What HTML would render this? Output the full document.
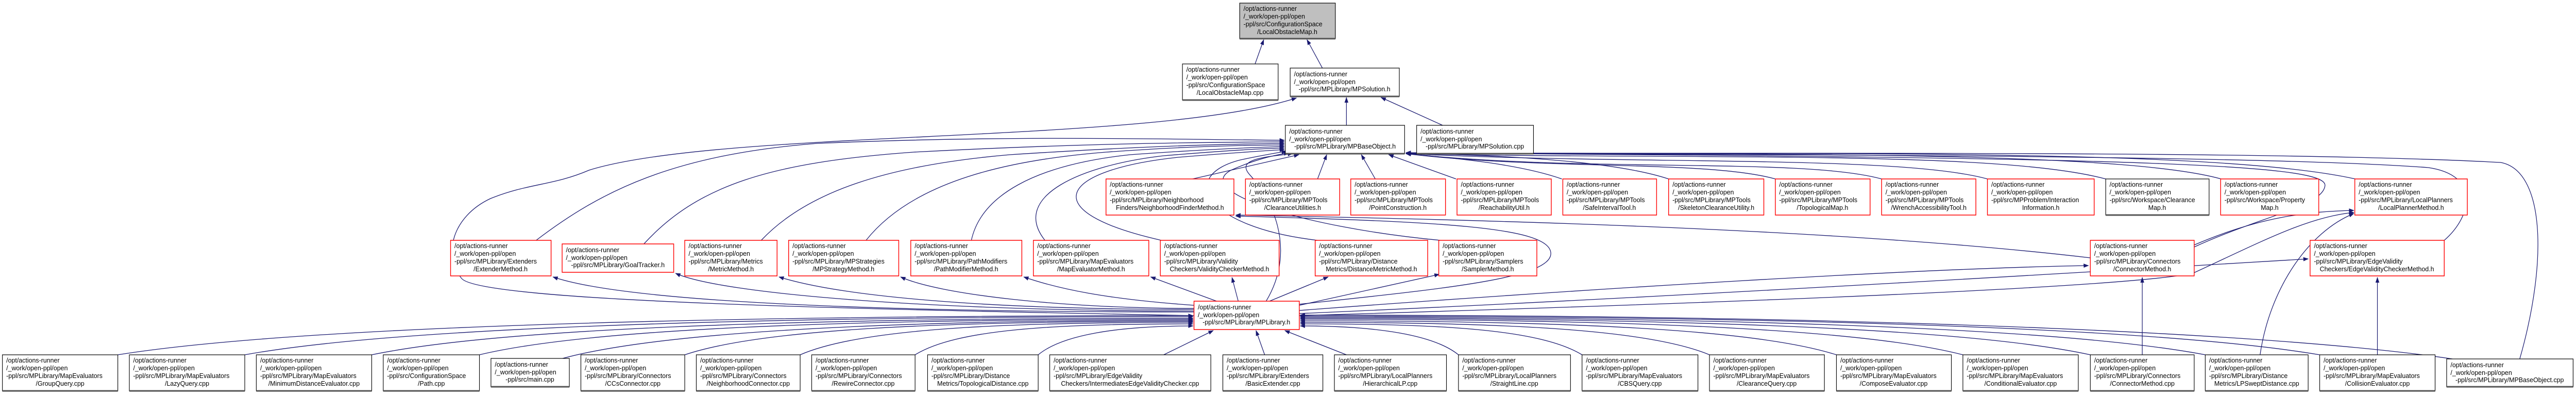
<!DOCTYPE html>
<html><head><meta charset="utf-8"><style>
html,body{margin:0;padding:0;background:#fff;width:100%;height:100%;overflow:hidden;}
svg{display:block;width:100vw;height:100vh;}
text{font-family:"Liberation Sans",Arial,sans-serif;font-size:13.3px;fill:#000;}
.e{fill:none;stroke:#191970;stroke-width:1.3;}
.nb{fill:#fff;stroke:#000;stroke-width:1.2;}
.nr{fill:#fff;stroke:#ff0000;stroke-width:1.5;}
.sh{stroke:#555;stroke-width:3;}
.m{text-anchor:middle;}
</style></head><body>
<svg viewBox="0 0 5357 764" preserveAspectRatio="none" xmlns="http://www.w3.org/2000/svg">
<defs><marker id="a" markerWidth="11" markerHeight="8" refX="10" refY="4" orient="auto" markerUnits="userSpaceOnUse"><path d="M0,0 L11,4 L0,8z" fill="#191970"/></marker></defs>

<g class="e" marker-end="url(#a)">
<path d="M2610,124 L2628,77"/>
<path d="M2750,132 L2718,77"/>
<path d="M2800,243 L2800,189"/>
<path d="M3000,243 L2872,189"/>
<path d="M2483,612 C1800,600 1000,585 960,540 C920,495 940,420 1020,385 C1100,355 1150,360 1225,330 C1500,250 2400,280 2696,190"/>
<path d="M1115,466 C1250,370 1400,300 1700,278 C2100,262 2400,270 2671,272"/>
<path d="M1339,473 C1450,360 1600,315 1900,295 C2200,280 2450,276 2671,275"/>
<path d="M1583,466 C1680,370 1850,320 2100,300 C2350,285 2500,280 2671,278"/>
<path d="M1801,466 C1900,350 2100,310 2300,295 C2450,285 2550,282 2671,281"/>
<path d="M2020,466 C2040,380 2150,320 2350,300 C2500,290 2600,286 2671,284"/>
<path d="M2173,466 C2100,380 2250,320 2420,302 C2550,292 2620,288 2671,287"/>
<path d="M2415,466 C2150,410 2200,330 2450,305 C2580,295 2640,292 2671,290"/>
<path d="M2740,466 C2500,440 2450,340 2580,310 C2630,300 2660,296 2675,293"/>
<path d="M2995,466 C2700,440 2480,370 2560,330 C2620,305 2660,300 2680,296"/>
<path d="M2633,584 C2700,480 2640,380 2600,340 C2570,310 2620,305 2688,298"/>
<path d="M2480,347 L2701,300"/>
<path d="M2740,347 L2759,300"/>
<path d="M2860,347 L2831,300"/>
<path d="M3028,347 L2888,300"/>
<path d="M3248,347 C3150,315 3000,305 2924,298"/>
<path d="M3470,347 C3350,310 3100,300 2924,298"/>
<path d="M3692,347 C3550,310 3200,330 2924,298"/>
<path d="M3913,347 C3750,305 3300,335 2924,298"/>
<path d="M4133,347 C3950,300 3400,320 2924,298"/>
<path d="M4379,347 C4150,290 3500,310 2924,298"/>
<path d="M4619,347 C4400,290 3600,300 2924,298"/>
<path d="M4898,347 C4600,285 3700,300 2924,298"/>
<path d="M4563,479 C4700,420 4830,400 4835,360 C4840,320 4500,305 2924,297"/>
<path d="M5083,466 C5140,420 5160,340 5050,325 C4700,300 3600,300 2924,297"/>
<path d="M5240,696 C5300,500 5290,330 5200,315 C4700,290 3600,300 2924,296"/>
<path d="M2483,605 C1815,605 1300,585 1150,537"/>
<path d="M2483,603 C1940,603 1500,570 1405,530"/>
<path d="M2483,600 C2050,600 1750,575 1620,537"/>
<path d="M2483,598 C2200,598 1950,570 1873,537"/>
<path d="M2483,592 C2300,580 2200,560 2129,537"/>
<path d="M2530,584 L2393,537"/>
<path d="M2575,584 L2562,538"/>
<path d="M2640,584 L2762,537"/>
<path d="M2702,592 L2993,532"/>
<path d="M2702,602 C3300,560 4000,520 4343,515"/>
<path d="M2702,608 C3400,580 4300,530 4800,502"/>
<path d="M2702,612 C3500,590 4400,560 4560,530 C4700,470 4800,420 4895,412"/>
<path d="M2702,590 C3000,560 3230,540 3225,490 C3220,440 3000,430 2570,419"/>
<path d="M4347,500 C3800,440 3000,425 2570,417"/>
<path d="M4563,475 C4700,420 4800,410 4895,408"/>
<path d="M4700,688 C4720,560 4800,450 4895,414"/>
<path d="M4944,688 L4944,538"/>
<path d="M4455,688 L4455,538"/>
<path d="M245,688 C581,638 1364,612 2481,612"/>
<path d="M509,688 C805,638 1496,614 2481,614"/>
<path d="M773,688 C1030,638 1628,617 2481,617"/>
<path d="M997,688 C1220,638 1740,619 2481,619"/>
<path d="M1170,695 C1367,645 1826,621 2481,621"/>
<path d="M1424,688 C1583,638 1953,623 2481,623"/>
<path d="M1664,688 C1787,638 2073,625 2481,625"/>
<path d="M1903,688 C1990,638 2193,628 2481,628"/>
<path d="M2159,688 C2208,650 2321,632 2481,632"/>
<path d="M2420,688 L2523,641"/>
<path d="M2630,688 L2612,641"/>
<path d="M2800,688 L2672,641"/>
<path d="M3033,688 C2983,650 2867,632 2704,632"/>
<path d="M3290,688 C3202,638 2996,628 2704,628"/>
<path d="M3555,688 C3427,638 3128,625 2704,625"/>
<path d="M3819,688 C3651,638 3260,622 2704,622"/>
<path d="M4082,688 C3875,638 3392,619 2704,619"/>
<path d="M4347,688 C4100,638 3524,617 2704,617"/>
<path d="M4586,688 C4303,638 3644,615 2704,615"/>
<path d="M4824,688 C4506,638 3763,613 2704,613"/>
<path d="M5100,696 C4740,646 3901,611 2704,611"/>
</g>

<g>
<rect x="2578" y="6" width="199" height="69" fill="#bfbfbf" stroke="#000" stroke-width="1.2"/>
<line x1="2578" y1="75" x2="2777" y2="75" class="sh"/>
<text x="2586" y="21">/opt/actions-runner</text><text x="2586" y="36">/_work/open-ppl/open</text><text x="2586" y="51">-ppl/src/ConfigurationSpace</text><text x="2677" y="66" class="m">/LocalObstacleMap.h</text>

<rect x="2459" y="124" width="199" height="70" class="nb"/><line x1="2459" y1="194" x2="2658" y2="194" class="sh"/>
<text x="2467" y="139">/opt/actions-runner</text><text x="2467" y="154">/_work/open-ppl/open</text><text x="2467" y="169">-ppl/src/ConfigurationSpace</text><text x="2558" y="184" class="m">/LocalObstacleMap.cpp</text>

<rect x="2683" y="132" width="227" height="55" class="nb"/><line x1="2683" y1="187" x2="2910" y2="187" class="sh"/>
<text x="2691" y="148">/opt/actions-runner</text><text x="2691" y="163">/_work/open-ppl/open</text><text x="2796" y="177" class="m">-ppl/src/MPLibrary/MPSolution.h</text>

<rect x="2673" y="243" width="248" height="55" class="nb"/><line x1="2673" y1="298" x2="2921" y2="298" class="sh"/>
<text x="2681" y="259">/opt/actions-runner</text><text x="2681" y="274">/_work/open-ppl/open</text><text x="2797" y="288" class="m">-ppl/src/MPLibrary/MPBaseObject.h</text>

<rect x="2946" y="243" width="243" height="55" class="nb"/><line x1="2946" y1="298" x2="3189" y2="298" class="sh"/>
<text x="2954" y="259">/opt/actions-runner</text><text x="2954" y="274">/_work/open-ppl/open</text><text x="3067" y="288" class="m">-ppl/src/MPLibrary/MPSolution.cpp</text>

<rect x="2300" y="347" width="266" height="70" class="nr"/>
<text x="2308" y="362">/opt/actions-runner</text><text x="2308" y="377">/_work/open-ppl/open</text><text x="2308" y="392">-ppl/src/MPLibrary/Neighborhood</text><text x="2433" y="407" class="m">Finders/NeighborhoodFinderMethod.h</text>

<rect x="2590" y="347" width="196" height="70" class="nr"/>
<text x="2598" y="362">/opt/actions-runner</text><text x="2598" y="377">/_work/open-ppl/open</text><text x="2598" y="392">-ppl/src/MPLibrary/MPTools</text><text x="2688" y="407" class="m">/ClearanceUtilities.h</text>

<rect x="2809" y="347" width="197" height="70" class="nr"/>
<text x="2817" y="362">/opt/actions-runner</text><text x="2817" y="377">/_work/open-ppl/open</text><text x="2817" y="392">-ppl/src/MPLibrary/MPTools</text><text x="2907" y="407" class="m">/PointConstruction.h</text>

<rect x="3030" y="347" width="196" height="70" class="nr"/>
<text x="3038" y="362">/opt/actions-runner</text><text x="3038" y="377">/_work/open-ppl/open</text><text x="3038" y="392">-ppl/src/MPLibrary/MPTools</text><text x="3128" y="407" class="m">/ReachabilityUtil.h</text>

<rect x="3250" y="347" width="195" height="70" class="nr"/>
<text x="3258" y="362">/opt/actions-runner</text><text x="3258" y="377">/_work/open-ppl/open</text><text x="3258" y="392">-ppl/src/MPLibrary/MPTools</text><text x="3347" y="407" class="m">/SafeIntervalTool.h</text>

<rect x="3470" y="347" width="198" height="70" class="nr"/>
<text x="3478" y="362">/opt/actions-runner</text><text x="3478" y="377">/_work/open-ppl/open</text><text x="3478" y="392">-ppl/src/MPLibrary/MPTools</text><text x="3569" y="407" class="m">/SkeletonClearanceUtility.h</text>

<rect x="3692" y="347" width="197" height="70" class="nr"/>
<text x="3700" y="362">/opt/actions-runner</text><text x="3700" y="377">/_work/open-ppl/open</text><text x="3700" y="392">-ppl/src/MPLibrary/MPTools</text><text x="3790" y="407" class="m">/TopologicalMap.h</text>

<rect x="3913" y="347" width="196" height="70" class="nr"/>
<text x="3921" y="362">/opt/actions-runner</text><text x="3921" y="377">/_work/open-ppl/open</text><text x="3921" y="392">-ppl/src/MPLibrary/MPTools</text><text x="4011" y="407" class="m">/WrenchAccessibilityTool.h</text>

<rect x="4133" y="347" width="222" height="70" class="nr"/>
<text x="4141" y="362">/opt/actions-runner</text><text x="4141" y="377">/_work/open-ppl/open</text><text x="4141" y="392">-ppl/src/MPProblem/Interaction</text><text x="4244" y="407" class="m">Information.h</text>

<rect x="4379" y="347" width="215" height="70" class="nb"/><line x1="4379" y1="417" x2="4594" y2="417" class="sh"/>
<text x="4387" y="362">/opt/actions-runner</text><text x="4387" y="377">/_work/open-ppl/open</text><text x="4387" y="392">-ppl/src/Workspace/Clearance</text><text x="4486" y="407" class="m">Map.h</text>

<rect x="4618" y="347" width="204" height="70" class="nr"/>
<text x="4626" y="362">/opt/actions-runner</text><text x="4626" y="377">/_work/open-ppl/open</text><text x="4626" y="392">-ppl/src/Workspace/Property</text><text x="4720" y="407" class="m">Map.h</text>

<rect x="4897" y="347" width="234" height="70" class="nr"/>
<text x="4905" y="362">/opt/actions-runner</text><text x="4905" y="377">/_work/open-ppl/open</text><text x="4905" y="392">-ppl/src/MPLibrary/LocalPlanners</text><text x="5014" y="407" class="m">/LocalPlannerMethod.h</text>

<rect x="937" y="466" width="209" height="69" class="nr"/>
<text x="945" y="481">/opt/actions-runner</text><text x="945" y="496">/_work/open-ppl/open</text><text x="945" y="511">-ppl/src/MPLibrary/Extenders</text><text x="1041" y="526" class="m">/ExtenderMethod.h</text>

<rect x="1169" y="473" width="232" height="55" class="nr"/>
<text x="1177" y="489">/opt/actions-runner</text><text x="1177" y="504">/_work/open-ppl/open</text><text x="1285" y="518" class="m">-ppl/src/MPLibrary/GoalTracker.h</text>

<rect x="1424" y="466" width="192" height="69" class="nr"/>
<text x="1432" y="481">/opt/actions-runner</text><text x="1432" y="496">/_work/open-ppl/open</text><text x="1432" y="511">-ppl/src/MPLibrary/Metrics</text><text x="1520" y="526" class="m">/MetricMethod.h</text>

<rect x="1640" y="466" width="229" height="69" class="nr"/>
<text x="1648" y="481">/opt/actions-runner</text><text x="1648" y="496">/_work/open-ppl/open</text><text x="1648" y="511">-ppl/src/MPLibrary/MPStrategies</text><text x="1754" y="526" class="m">/MPStrategyMethod.h</text>

<rect x="1894" y="466" width="231" height="69" class="nr"/>
<text x="1902" y="481">/opt/actions-runner</text><text x="1902" y="496">/_work/open-ppl/open</text><text x="1902" y="511">-ppl/src/MPLibrary/PathModifiers</text><text x="2009" y="526" class="m">/PathModifierMethod.h</text>

<rect x="2149" y="466" width="240" height="69" class="nr"/>
<text x="2157" y="481">/opt/actions-runner</text><text x="2157" y="496">/_work/open-ppl/open</text><text x="2157" y="511">-ppl/src/MPLibrary/MapEvaluators</text><text x="2269" y="526" class="m">/MapEvaluatorMethod.h</text>

<rect x="2413" y="466" width="247" height="69" class="nr"/>
<text x="2421" y="481">/opt/actions-runner</text><text x="2421" y="496">/_work/open-ppl/open</text><text x="2421" y="511">-ppl/src/MPLibrary/Validity</text><text x="2536" y="526" class="m">Checkers/ValidityCheckerMethod.h</text>

<rect x="2735" y="466" width="234" height="69" class="nr"/>
<text x="2743" y="481">/opt/actions-runner</text><text x="2743" y="496">/_work/open-ppl/open</text><text x="2743" y="511">-ppl/src/MPLibrary/Distance</text><text x="2852" y="526" class="m">Metrics/DistanceMetricMethod.h</text>

<rect x="2992" y="466" width="204" height="69" class="nr"/>
<text x="3000" y="481">/opt/actions-runner</text><text x="3000" y="496">/_work/open-ppl/open</text><text x="3000" y="511">-ppl/src/MPLibrary/Samplers</text><text x="3094" y="526" class="m">/SamplerMethod.h</text>

<rect x="4347" y="466" width="216" height="69" class="nr"/>
<text x="4355" y="481">/opt/actions-runner</text><text x="4355" y="496">/_work/open-ppl/open</text><text x="4355" y="511">-ppl/src/MPLibrary/Connectors</text><text x="4455" y="526" class="m">/ConnectorMethod.h</text>

<rect x="4804" y="466" width="279" height="69" class="nr"/>
<text x="4812" y="481">/opt/actions-runner</text><text x="4812" y="496">/_work/open-ppl/open</text><text x="4812" y="511">-ppl/src/MPLibrary/EdgeValidity</text><text x="4943" y="526" class="m">Checkers/EdgeValidityCheckerMethod.h</text>

<rect x="2483" y="584" width="219" height="55" class="nr"/>
<text x="2491" y="600">/opt/actions-runner</text><text x="2491" y="615">/_work/open-ppl/open</text><text x="2592" y="629" class="m">-ppl/src/MPLibrary/MPLibrary.h</text>

<rect x="5" y="688" width="240" height="70" class="nb"/><line x1="5" y1="758" x2="245" y2="758" class="sh"/>
<text x="13" y="703">/opt/actions-runner</text><text x="13" y="718">/_work/open-ppl/open</text><text x="13" y="733">-ppl/src/MPLibrary/MapEvaluators</text><text x="125" y="748" class="m">/GroupQuery.cpp</text>

<rect x="269" y="688" width="240" height="70" class="nb"/><line x1="269" y1="758" x2="509" y2="758" class="sh"/>
<text x="277" y="703">/opt/actions-runner</text><text x="277" y="718">/_work/open-ppl/open</text><text x="277" y="733">-ppl/src/MPLibrary/MapEvaluators</text><text x="389" y="748" class="m">/LazyQuery.cpp</text>

<rect x="533" y="688" width="240" height="70" class="nb"/><line x1="533" y1="758" x2="773" y2="758" class="sh"/>
<text x="541" y="703">/opt/actions-runner</text><text x="541" y="718">/_work/open-ppl/open</text><text x="541" y="733">-ppl/src/MPLibrary/MapEvaluators</text><text x="653" y="748" class="m">/MinimumDistanceEvaluator.cpp</text>

<rect x="797" y="688" width="200" height="70" class="nb"/><line x1="797" y1="758" x2="997" y2="758" class="sh"/>
<text x="805" y="703">/opt/actions-runner</text><text x="805" y="718">/_work/open-ppl/open</text><text x="805" y="733">-ppl/src/ConfigurationSpace</text><text x="897" y="748" class="m">/Path.cpp</text>

<rect x="1021" y="695" width="163" height="55" class="nb"/><line x1="1021" y1="750" x2="1184" y2="750" class="sh"/>
<text x="1029" y="711">/opt/actions-runner</text><text x="1029" y="726">/_work/open-ppl/open</text><text x="1102" y="740" class="m">-ppl/src/main.cpp</text>

<rect x="1208" y="688" width="216" height="70" class="nb"/><line x1="1208" y1="758" x2="1424" y2="758" class="sh"/>
<text x="1216" y="703">/opt/actions-runner</text><text x="1216" y="718">/_work/open-ppl/open</text><text x="1216" y="733">-ppl/src/MPLibrary/Connectors</text><text x="1316" y="748" class="m">/CCsConnector.cpp</text>

<rect x="1448" y="688" width="216" height="70" class="nb"/><line x1="1448" y1="758" x2="1664" y2="758" class="sh"/>
<text x="1456" y="703">/opt/actions-runner</text><text x="1456" y="718">/_work/open-ppl/open</text><text x="1456" y="733">-ppl/src/MPLibrary/Connectors</text><text x="1556" y="748" class="m">/NeighborhoodConnector.cpp</text>

<rect x="1688" y="688" width="215" height="70" class="nb"/><line x1="1688" y1="758" x2="1903" y2="758" class="sh"/>
<text x="1696" y="703">/opt/actions-runner</text><text x="1696" y="718">/_work/open-ppl/open</text><text x="1696" y="733">-ppl/src/MPLibrary/Connectors</text><text x="1795" y="748" class="m">/RewireConnector.cpp</text>

<rect x="1929" y="688" width="230" height="70" class="nb"/><line x1="1929" y1="758" x2="2159" y2="758" class="sh"/>
<text x="1937" y="703">/opt/actions-runner</text><text x="1937" y="718">/_work/open-ppl/open</text><text x="1937" y="733">-ppl/src/MPLibrary/Distance</text><text x="2044" y="748" class="m">Metrics/TopologicalDistance.cpp</text>

<rect x="2183" y="688" width="335" height="70" class="nb"/><line x1="2183" y1="758" x2="2518" y2="758" class="sh"/>
<text x="2191" y="703">/opt/actions-runner</text><text x="2191" y="718">/_work/open-ppl/open</text><text x="2191" y="733">-ppl/src/MPLibrary/EdgeValidity</text><text x="2350" y="748" class="m">Checkers/IntermediatesEdgeValidityChecker.cpp</text>

<rect x="2543" y="688" width="208" height="70" class="nb"/><line x1="2543" y1="758" x2="2751" y2="758" class="sh"/>
<text x="2551" y="703">/opt/actions-runner</text><text x="2551" y="718">/_work/open-ppl/open</text><text x="2551" y="733">-ppl/src/MPLibrary/Extenders</text><text x="2647" y="748" class="m">/BasicExtender.cpp</text>

<rect x="2775" y="688" width="233" height="70" class="nb"/><line x1="2775" y1="758" x2="3008" y2="758" class="sh"/>
<text x="2783" y="703">/opt/actions-runner</text><text x="2783" y="718">/_work/open-ppl/open</text><text x="2783" y="733">-ppl/src/MPLibrary/LocalPlanners</text><text x="2891" y="748" class="m">/HierarchicalLP.cpp</text>

<rect x="3033" y="688" width="233" height="70" class="nb"/><line x1="3033" y1="758" x2="3266" y2="758" class="sh"/>
<text x="3041" y="703">/opt/actions-runner</text><text x="3041" y="718">/_work/open-ppl/open</text><text x="3041" y="733">-ppl/src/MPLibrary/LocalPlanners</text><text x="3149" y="748" class="m">/StraightLine.cpp</text>

<rect x="3290" y="688" width="241" height="70" class="nb"/><line x1="3290" y1="758" x2="3531" y2="758" class="sh"/>
<text x="3298" y="703">/opt/actions-runner</text><text x="3298" y="718">/_work/open-ppl/open</text><text x="3298" y="733">-ppl/src/MPLibrary/MapEvaluators</text><text x="3410" y="748" class="m">/CBSQuery.cpp</text>

<rect x="3555" y="688" width="239" height="70" class="nb"/><line x1="3555" y1="758" x2="3794" y2="758" class="sh"/>
<text x="3563" y="703">/opt/actions-runner</text><text x="3563" y="718">/_work/open-ppl/open</text><text x="3563" y="733">-ppl/src/MPLibrary/MapEvaluators</text><text x="3674" y="748" class="m">/ClearanceQuery.cpp</text>

<rect x="3819" y="688" width="239" height="70" class="nb"/><line x1="3819" y1="758" x2="4058" y2="758" class="sh"/>
<text x="3827" y="703">/opt/actions-runner</text><text x="3827" y="718">/_work/open-ppl/open</text><text x="3827" y="733">-ppl/src/MPLibrary/MapEvaluators</text><text x="3938" y="748" class="m">/ComposeEvaluator.cpp</text>

<rect x="4082" y="688" width="240" height="70" class="nb"/><line x1="4082" y1="758" x2="4322" y2="758" class="sh"/>
<text x="4090" y="703">/opt/actions-runner</text><text x="4090" y="718">/_work/open-ppl/open</text><text x="4090" y="733">-ppl/src/MPLibrary/MapEvaluators</text><text x="4202" y="748" class="m">/ConditionalEvaluator.cpp</text>

<rect x="4347" y="688" width="216" height="70" class="nb"/><line x1="4347" y1="758" x2="4563" y2="758" class="sh"/>
<text x="4355" y="703">/opt/actions-runner</text><text x="4355" y="718">/_work/open-ppl/open</text><text x="4355" y="733">-ppl/src/MPLibrary/Connectors</text><text x="4455" y="748" class="m">/ConnectorMethod.cpp</text>

<rect x="4586" y="688" width="214" height="70" class="nb"/><line x1="4586" y1="758" x2="4800" y2="758" class="sh"/>
<text x="4594" y="703">/opt/actions-runner</text><text x="4594" y="718">/_work/open-ppl/open</text><text x="4594" y="733">-ppl/src/MPLibrary/Distance</text><text x="4693" y="748" class="m">Metrics/LPSweptDistance.cpp</text>

<rect x="4824" y="688" width="240" height="70" class="nb"/><line x1="4824" y1="758" x2="5064" y2="758" class="sh"/>
<text x="4832" y="703">/opt/actions-runner</text><text x="4832" y="718">/_work/open-ppl/open</text><text x="4832" y="733">-ppl/src/MPLibrary/MapEvaluators</text><text x="4944" y="748" class="m">/CollisionEvaluator.cpp</text>

<rect x="5088" y="696" width="263" height="54" class="nb"/><line x1="5088" y1="750" x2="5351" y2="750" class="sh"/>
<text x="5096" y="712">/opt/actions-runner</text><text x="5096" y="727">/_work/open-ppl/open</text><text x="5219" y="741" class="m">-ppl/src/MPLibrary/MPBaseObject.cpp</text>
</g>
</svg>
</body></html>
